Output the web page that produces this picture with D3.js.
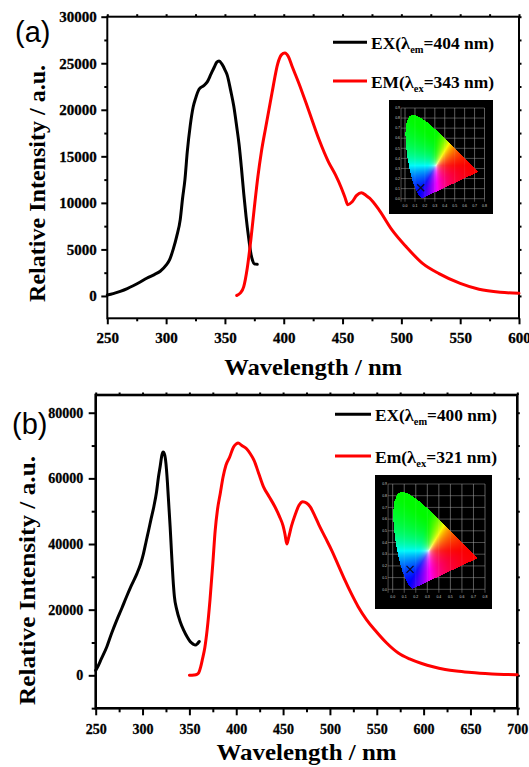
<!DOCTYPE html>
<html>
<head>
<meta charset="utf-8">
<script src="https://cdn.jsdelivr.net/npm/d3@7/dist/d3.min.js"></script>
<style>
	body { margin: 0; background: #fff; }
	svg { display: block; }
</style>
</head>
<body>
<script>
// ---- panel (a) data ----
var exAWave = [250, 255, 261, 267, 272, 278, 283.5, 290, 295, 300, 303, 306, 309, 312, 314, 316, 318, 320.5, 323, 325, 328, 332, 335, 338, 341, 343, 345, 347.5, 350, 352, 355, 357.5, 360, 362, 364, 366, 368, 370.3, 372, 373.5, 375, 377.5];
var exAInt = [100, 250, 500, 800, 1100, 1500, 1900, 2300, 2650, 3300, 3900, 5000, 6400, 8200, 10500, 12500, 15500, 18300, 20300, 21200, 22200, 22600, 23000, 23800, 24600, 25100, 25250, 24900, 24300, 23700, 22000, 20400, 18200, 16300, 13800, 11000, 8500, 6100, 4600, 3800, 3450, 3400];

var emAWave = [360, 363, 366, 369, 372, 375, 378, 381, 384.5, 390, 395, 398, 401, 404, 407, 413, 421, 430, 438, 444, 449, 452, 454.5, 458, 462, 466, 470, 473, 481, 492, 504, 518, 532, 550, 566, 584, 600];
var emAInt = [50, 300, 1000, 3000, 6000, 9500, 12800, 15500, 18000, 21800, 25000, 25900, 26100, 25700, 24700, 22800, 20000, 16800, 14400, 13000, 11600, 10600, 9800, 10100, 10800, 11100, 10800, 10500, 9250, 7100, 5300, 3500, 2400, 1350, 720, 400, 290];

var xTicksA = [250, 300, 350, 400, 450, 500, 550, 600];
var yTicksA = [0, 5000, 10000, 15000, 20000, 25000, 30000];
var legendA = [
	{pre: "EX(", sub: "em", post: "=404 nm)"},
	{pre: "EM(", sub: "ex", post: "=343 nm)"}
];
var cieMarkA = [0.158, 0.109];

// ---- panel (b) data ----
var exBWave = [250, 252, 256, 262, 267, 272.5, 278, 283, 288, 294, 298, 301, 304, 306.5, 309, 312, 315, 317, 319, 320.6, 322, 323.5, 325, 326.5, 328, 329.5, 331, 332.5, 334, 336.5, 340, 344, 348, 351, 354, 356.5, 358.5, 360.5];
var exBInt = [1500, 2500, 5000, 8800, 12800, 16800, 20500, 24000, 27300, 31000, 34000, 37100, 41000, 44200, 47500, 51300, 56000, 60400, 64000, 67000, 68000, 67300, 64500, 59000, 52000, 45000, 37000, 29500, 24000, 20000, 16500, 13700, 11500, 10200, 9500, 9200, 9600, 10300];

var emBWave = [350, 355, 358, 360, 362, 364, 366.5, 369, 372, 375, 377.5, 380, 383, 386, 389, 393, 397, 400, 402, 406, 411, 415, 419, 424, 429, 435, 441, 446, 450, 452, 454, 456, 459, 463, 467, 471, 475, 479, 484, 488, 495, 502, 509, 516, 523, 530, 539, 548, 560, 573, 585, 598, 610, 623, 635, 648, 660, 673, 686, 700];
var emBInt = [0, 100, 300, 800, 2500, 5000, 8500, 14000, 23000, 34000, 44000, 50500, 55500, 60500, 64000, 66500, 69500, 70500, 70800, 70000, 69000, 67500, 65500, 61500, 57500, 54500, 51500, 48500, 45500, 43000, 40000, 42000, 45500, 49000, 51800, 52900, 52500, 51300, 48500, 46000, 42000, 38000, 33500, 29000, 24800, 21000, 17000, 13800, 10000, 6800, 5000, 3600, 2600, 1800, 1300, 900, 600, 400, 280, 200];

var xTicksB = [250, 300, 350, 400, 450, 500, 550, 600, 650, 700];
var yTicksB = [0, 20000, 40000, 60000, 80000];
var legendB = [
	{pre: "EX(", sub: "em", post: "=400 nm)"},
	{pre: "Em(", sub: "ex", post: "=321 nm)"}
];
var cieMarkB = [0.15, 0.17];

// CIE 1931 spectral locus (chromaticity x, y)
var locusX = [0.1741, 0.1733, 0.1714, 0.1689, 0.1644, 0.1566, 0.1440, 0.1241, 0.1096, 0.0913, 0.0687, 0.0454, 0.0235, 0.0082, 0.0039, 0.0139, 0.0389, 0.0743, 0.1142, 0.1547, 0.2296, 0.3016, 0.3731, 0.4441, 0.5125, 0.5752, 0.6270, 0.6658, 0.6915, 0.7190, 0.7300, 0.7347];
var locusY = [0.0050, 0.0048, 0.0051, 0.0069, 0.0109, 0.0177, 0.0297, 0.0578, 0.0868, 0.1327, 0.2007, 0.2950, 0.4127, 0.5384, 0.6548, 0.7502, 0.8120, 0.8338, 0.8262, 0.8059, 0.7543, 0.6923, 0.6245, 0.5547, 0.4866, 0.4242, 0.3725, 0.3340, 0.3083, 0.2809, 0.2700, 0.2653];
var cieXTicks = [0, 0.1, 0.2, 0.3, 0.4, 0.5, 0.6, 0.7, 0.8];
var cieYTicks = [0, 0.1, 0.2, 0.3, 0.4, 0.5, 0.6, 0.7, 0.8, 0.9];

var SERIF = "'Liberation Serif', 'Times New Roman', serif";
var SANS = "'Liberation Sans', Arial, sans-serif";

var svg = d3.select("body")
	.append("svg")
	.attr("width", 529)
	.attr("height", 767);

function zip(a, b){
	return a.map(function(d, i){ return [d, b[i]]; });
}

function minors(majors){
	var step = majors[1] - majors[0];
	return majors.slice(0, -1).map(function(d){ return d + step / 2; });
}

function serifBold(sel, size){
	sel.style("font-family", SERIF)
		.style("font-weight", "bold")
		.style("font-size", size + "px")
		.attr("fill", "#000");
}

function chromaColor(cx, cy){
	var X = cx / cy, Y = 1, Z = (1 - cx - cy) / cy;
	var r = 3.2406 * X - 1.5372 * Y - 0.4986 * Z;
	var g = -0.9689 * X + 1.8758 * Y + 0.0415 * Z;
	var b = 0.0557 * X - 0.2040 * Y + 1.0570 * Z;
	r = Math.max(r, 0); g = Math.max(g, 0); b = Math.max(b, 0);
	// push colours away from white so only a small white blob remains
	var lo = Math.min(r, g, b) * 0.6;
	r -= lo; g -= lo; b -= lo;
	var m = Math.max(r, g, b);
	var enc = function(v){
		return Math.round(250 * Math.min(1, Math.pow(v / m, 1.1)));
	};
	return "rgb(" + enc(r) + "," + enc(g) + "," + enc(b) + ")";
}

function drawInset(box, cx, cy, mark){
	var g = svg.append("g");
	var x = d3.scaleLinear().domain([0, 0.8]).range(cx);
	var y = d3.scaleLinear().domain([0, 0.9]).range(cy);

	g.append("rect")
		.attr("x", box[0]).attr("y", box[1])
		.attr("width", box[2] - box[0]).attr("height", box[3] - box[1])
		.attr("fill", "#000");

	var poly = locusX.map(function(d, i){ return [x(d), y(locusY[i])]; });
	var cells = [];
	for(var px = Math.floor(x(0)); px < x(0.75); px++){
		for(var py = Math.floor(y(0.85)); py < y(0); py++){
			if(d3.polygonContains(poly, [px + 0.5, py + 0.5])){
				cells.push({px: px, py: py, c: chromaColor(x.invert(px + 0.5), y.invert(py + 0.5))});
			}
		}
	}

	var grid = g.append("g")
		.attr("stroke", "#9a9a9a")
		.attr("stroke-width", 0.5);
	grid.selectAll(".vx")
		.data(cieXTicks)
		.enter()
		.append("line")
		.attr("x1", function(d){ return x(d); })
		.attr("x2", function(d){ return x(d); })
		.attr("y1", y(0.9))
		.attr("y2", y(-0.03));
	grid.selectAll(".hy")
		.data(cieYTicks)
		.enter()
		.append("line")
		.attr("x1", x(-0.04))
		.attr("x2", x(0.8))
		.attr("y1", function(d){ return y(d); })
		.attr("y2", function(d){ return y(d); });
	grid.append("line")
		.attr("x1", x(-0.04)).attr("x2", x(-0.04))
		.attr("y1", y(0.9)).attr("y2", y(-0.03));

	g.append("g")
		.attr("shape-rendering", "crispEdges")
		.selectAll("rect")
		.data(cells)
		.enter()
		.append("rect")
		.attr("x", function(d){ return d.px; })
		.attr("y", function(d){ return d.py; })
		.attr("width", 1)
		.attr("height", 1)
		.attr("fill", function(d){ return d.c; });

	// faint grid over the colour area, as in the original inset
	g.append("g")
		.attr("stroke", "#fff")
		.attr("stroke-opacity", 0.18)
		.attr("stroke-width", 0.5)
		.selectAll("line")
		.data(cieXTicks)
		.enter()
		.append("line")
		.attr("x1", function(d){ return x(d); })
		.attr("x2", function(d){ return x(d); })
		.attr("y1", y(0.9))
		.attr("y2", y(0));

	g.selectAll(".xl")
		.data(cieXTicks)
		.enter()
		.append("text")
		.attr("x", function(d){ return x(d); })
		.attr("y", y(-0.03) + 5)
		.attr("text-anchor", "middle")
		.style("font-family", SANS)
		.style("font-size", "3.5px")
		.attr("fill", "#ccc")
		.text(function(d){ return d.toFixed(1); });
	g.selectAll(".yl")
		.data(cieYTicks)
		.enter()
		.append("text")
		.attr("x", x(-0.04) - 1)
		.attr("y", function(d){ return y(d) + 1.2; })
		.attr("text-anchor", "end")
		.style("font-family", SANS)
		.style("font-size", "3.5px")
		.attr("fill", "#ccc")
		.text(function(d){ return d.toFixed(1); });

	var s = 3.5;
	g.append("path")
		.attr("d", "M" + (x(mark[0]) - s) + "," + (y(mark[1]) - s) + "L" + (x(mark[0]) + s) + "," + (y(mark[1]) + s) +
			"M" + (x(mark[0]) + s) + "," + (y(mark[1]) - s) + "L" + (x(mark[0]) - s) + "," + (y(mark[1]) + s))
		.attr("stroke", "#0a0a2a")
		.attr("stroke-width", 1.3);
}

function drawPanel(p){
	var g = svg.append("g");
	var x = d3.scaleLinear().domain(p.xDomain).range([p.left, p.right]);
	var y = d3.scaleLinear().domain(p.yDomain).range([p.bottom, p.top]);

	var styleAxis = function(sel, size){
		sel.select(".domain").remove();
		sel.selectAll("line").attr("stroke", "#000").attr("stroke-width", 2);
		sel.selectAll("text").call(serifBold, size)
			.attr("stroke", "#000")
			.attr("stroke-width", 0.3);
	};

	var xMinor = minors(p.xTicks);
	var yMinor = minors(p.yTicks).concat(p.yExtraMinor);

	g.append("g")
		.attr("transform", "translate(0," + p.bottom + ")")
		.call(d3.axisBottom(x).tickValues(xMinor).tickSize(p.minorLen).tickFormat(""))
		.call(styleAxis, p.tickFont);
	g.append("g")
		.attr("transform", "translate(0," + p.bottom + ")")
		.call(d3.axisBottom(x).tickValues(p.xTicks).tickSize(p.majorLen).tickPadding(p.xPad).tickFormat(d3.format("d")))
		.call(styleAxis, p.tickFont);
	g.append("g")
		.attr("transform", "translate(" + p.left + ",0)")
		.call(d3.axisLeft(y).tickValues(yMinor).tickSize(p.minorLen).tickFormat(""))
		.call(styleAxis, p.tickFont);
	g.append("g")
		.attr("transform", "translate(" + p.left + ",0)")
		.call(d3.axisLeft(y).tickValues(p.yTicks).tickSize(p.majorLen).tickPadding(p.yPad).tickFormat(d3.format("d")))
		.call(styleAxis, p.tickFont);
	g.append("g")
		.attr("transform", "translate(0," + p.top + ")")
		.call(d3.axisTop(x).tickValues(p.xTicks.concat(xMinor)).tickSize(2.5).tickFormat(""))
		.call(styleAxis, p.tickFont);
	g.append("g")
		.attr("transform", "translate(" + p.right + ",0)")
		.call(d3.axisRight(y).tickValues(p.yTicks.concat(yMinor)).tickSize(2.5).tickFormat(""))
		.call(styleAxis, p.tickFont);

	g.append("rect")
		.attr("x", p.left).attr("y", p.top)
		.attr("width", p.right - p.left).attr("height", p.bottom - p.top)
		.attr("fill", "none")
		.attr("stroke", "#000")
		.attr("stroke-width", p.frameWidth);

	var line = d3.line()
		.x(function(d){ return x(d[0]); })
		.y(function(d){ return y(d[1]); })
		.curve(d3.curveMonotoneX);

	g.selectAll(".curve")
		.data(p.series)
		.enter()
		.append("path")
		.attr("class", "curve")
		.attr("d", function(d){ return line(d.values); })
		.attr("fill", "none")
		.attr("stroke", function(d){ return d.color; })
		.attr("stroke-width", 3)
		.attr("stroke-linejoin", "round")
		.attr("stroke-linecap", "round");

	// legend
	p.legend.forEach(function(d, i){
		var ly = p.legendY[i];
		g.append("line")
			.attr("x1", p.legendX[0]).attr("x2", p.legendX[1])
			.attr("y1", ly).attr("y2", ly)
			.attr("stroke", p.series[i].color)
			.attr("stroke-width", 3);
		var t = g.append("text")
			.attr("x", p.legendX[2])
			.attr("y", ly + 7)
			.call(serifBold, p.legendFont)
			.attr("textLength", p.legendWidth)
			.attr("lengthAdjust", "spacingAndGlyphs");
		t.append("tspan").text(d.pre);
		t.append("tspan").style("font-size", (p.legendFont + 1) + "px").text("λ");
		t.append("tspan").attr("dy", 4).style("font-size", (p.legendFont * 0.6) + "px").text(d.sub);
		t.append("tspan").attr("dy", -4).style("font-size", p.legendFont + "px").text(d.post);
	});

	g.append("text")
		.attr("x", (p.left + p.right) / 2)
		.attr("y", p.xTitleY)
		.attr("text-anchor", "middle")
		.call(serifBold, 24)
		.attr("textLength", p.xTitleLen)
		.attr("lengthAdjust", "spacingAndGlyphs")
		.text("Wavelength / nm");

	g.append("text")
		.attr("transform", "translate(" + p.yTitle[0] + "," + p.yTitle[1] + ") rotate(-90)")
		.attr("text-anchor", "middle")
		.call(serifBold, p.yTitle[2])
		.attr("textLength", p.yTitle[3])
		.attr("lengthAdjust", "spacingAndGlyphs")
		.text("Relative Intensity / a.u.");

	g.append("text")
		.attr("x", p.tag[0])
		.attr("y", p.tag[1])
		.style("font-family", SANS)
		.style("font-size", "29px")
		.attr("fill", "#000")
		.text(p.tag[2]);
}

drawPanel({
	xDomain: [250, 600], yDomain: [-2400, 30000],
	left: 107.3, right: 519, top: 16.7, bottom: 318.3,
	xTicks: xTicksA, yTicks: yTicksA, yExtraMinor: [],
	majorLen: 6, minorLen: 3, xPad: 8, yPad: 4.5, tickFont: 15, frameWidth: 2,
	series: [
		{color: "#000", values: zip(exAWave, exAInt)},
		{color: "#ff0000", values: zip(emAWave, emAInt)}
	],
	legend: legendA, legendX: [333, 367, 371], legendY: [42.3, 81], legendFont: 16, legendWidth: 123,
	xTitleY: 375, xTitleLen: 178,
	yTitle: [45, 183.4, 24, 237],
	tag: [15, 42, "(a)"]
});

drawPanel({
	xDomain: [250, 700], yDomain: [-10050, 85400],
	left: 95.7, right: 517.3, top: 395, bottom: 708.3,
	xTicks: xTicksB, yTicks: yTicksB, yExtraMinor: [-10000],
	majorLen: 7, minorLen: 4, xPad: 9, yPad: 5.4, tickFont: 14, frameWidth: 2.6,
	series: [
		{color: "#000", values: zip(exBWave, exBInt)},
		{color: "#ff0000", values: zip(emBWave, emBInt)}
	],
	legend: legendB, legendX: [335, 371, 375], legendY: [414.3, 456], legendFont: 16, legendWidth: 122,
	xTitleY: 760, xTitleLen: 180,
	yTitle: [35, 580.5, 24, 249],
	tag: [12, 434, "(b)"]
});

drawInset([389, 100, 493, 214], [405, 484.5], [198.7, 108], cieMarkA);
drawInset([375, 475, 492, 609], [392.7, 485], [589.3, 484], cieMarkB);
</script>
</body>
</html>
